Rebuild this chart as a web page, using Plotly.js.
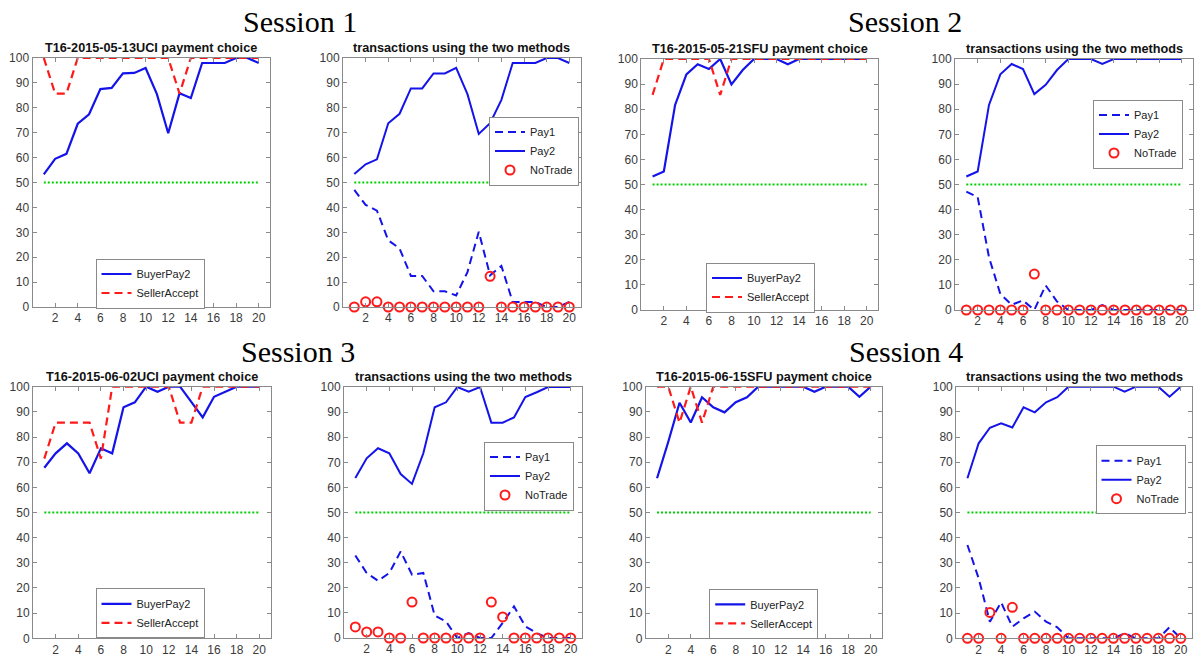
<!DOCTYPE html>
<html>
<head>
<meta charset="utf-8">
<script src="https://cdn.plot.ly/plotly-3.0.1.min.js"></script>
<style>html,body{margin:0;padding:0;background:#fff;}#chart{width:1197px;height:663px;}</style>
</head>
<body>
<div id="chart"></div>
<script>
// ---------- DATA ----------
const rounds = [1,2,3,4,5,6,7,8,9,10,11,12,13,14,15,16,17,18,19,20];
const xTickVals = [2,4,6,8,10,12,14,16,18,20];
const yTickVals = [0,10,20,30,40,50,60,70,80,90,100];
const refLevel = 50;
const refRounds = [1,20];

const sessionTitles = ["Session 1","Session 2","Session 3","Session 4"];
const choiceTitles = ["T16-2015-05-13UCI payment choice","T16-2015-05-21SFU payment choice",
                      "T16-2015-06-02UCI payment choice","T16-2015-06-15SFU payment choice"];
const transTitle = "transactions using the two methods";

// Session 1
const s1_buyerPay2   = [53.3,59.5,61.5,73.6,77.4,87.5,88,93.8,94,96,85.5,69.8,85.8,83.9,98,98,98,100,100,98];
const s1_sellerAccept= [100,85.7,85.7,100,100,100,100,100,100,100,100,100,85.7,100,100,100,100,100,100,100];
const s1_pay1        = [47,41,38.7,26.8,23.5,12.5,12.5,6.3,6.3,4.6,14,30.2,12.7,16.5,2,2,2,0,0,2];
const s1_pay2        = [53.4,57.3,59.3,73.8,77.6,87.8,87.8,93.8,93.8,96,85.5,69.5,73.8,83.2,98,98,98,100,100,98];
const s1_noTrade     = [0,2.1,2.1,0,0,0,0,0,0,0,0,0,12.3,0,0,0,0,0,0,0];
// Session 2
const s2_buyerPay2   = [53.2,55.2,81.7,93.9,97.9,96,100,89.9,95.6,100,100,100,97.9,100,100,100,100,100,100,100];
const s2_sellerAccept= [85.7,100,100,100,100,100,85.7,100,100,100,100,100,100,100,100,100,100,100,100,100];
const s2_pay1        = [47.2,45,21,6.4,2.1,3.8,0,9.8,3.4,0,0,0,2,0,0,0,0,0,0,0];
const s2_pay2        = [53.2,55.2,81.7,93.9,98,96,86,89.7,95.6,100,100,100,98,100,100,100,100,100,100,100];
const s2_noTrade     = [0,0,0,0,0,0,14.3,0,0,0,0,0,0,0,0,0,0,0,0,0];
// Session 3
const s3_buyerPay2   = [67.8,73.5,77.5,73.5,65.6,75.5,73.5,91.8,93.8,100,98,100,100,94,87.8,96,98,100,100,100];
const s3_sellerAccept= [71.4,85.7,85.7,85.7,85.7,71.4,100,100,100,100,100,100,85.7,85.7,100,100,100,100,100,100];
const s3_pay1        = [32.9,25.9,22.8,25.9,34.5,25.2,25.9,9,6.6,0,2,0,0,6,12.6,4.6,2,0,0,0];
const s3_pay2        = [63.7,71.6,75.6,73.6,65.3,61.4,73.6,91.9,93.9,100,98.1,100,85.8,85.8,87.9,96,97.9,100,100,100];
const s3_noTrade     = [4.4,2.4,2.4,0,0,14.3,0,0,0,0,0,0,14.3,8.4,0,0,0,0,0,0];
// Session 4
const s4_buyerPay2   = [63.6,78.1,93.6,85.8,95.8,91.8,89.8,93.8,95.8,100,100,100,100,100,98,100,100,100,96,100];
const s4_sellerAccept= [100,100,85.7,100,85.7,100,100,100,100,100,100,100,100,100,100,100,100,100,100,100];
const s4_pay1        = [37.1,23.8,6.6,14.3,4.6,7.9,10.6,6.6,4.4,0,0,0,0,0,2,0,0,0,4.4,0];
const s4_pay2        = [63.6,77.5,83.7,85.4,83.8,91.8,89.8,93.8,95.8,100,100,100,100,100,98,100,100,100,96,100];
const s4_noTrade     = [0,0,10.3,0,12.3,0,0,0,0,0,0,0,0,0,0,0,0,0,0,0];

const sessions = [
  {buyer:s1_buyerPay2, seller:s1_sellerAccept, pay1:s1_pay1, pay2:s1_pay2, noTrade:s1_noTrade},
  {buyer:s2_buyerPay2, seller:s2_sellerAccept, pay1:s2_pay1, pay2:s2_pay2, noTrade:s2_noTrade},
  {buyer:s3_buyerPay2, seller:s3_sellerAccept, pay1:s3_pay1, pay2:s3_pay2, noTrade:s3_noTrade},
  {buyer:s4_buyerPay2, seller:s4_sellerAccept, pay1:s4_pay1, pay2:s4_pay2, noTrade:s4_noTrade}
];

// ---------- LAYOUT (pixel boxes) ----------
const W = 1197, H = 663;
const boxes = [
  [32.5,270,58,307],[343,580.6,58,307],[641.3,878,59,310],[955,1193,59,310],
  [33,270.6,386.7,638.3],[344,582,387,638],[645.8,881.9,386.7,638.3],[956.2,1192,386.7,638.3]
];
const legendPos = [
  [150,283.5],[534,151],[760.5,287.5],[1138,134],
  [150,613.3],[529,476],[763.7,613.8],[1140.5,479.7]
];
const sessionTitlePos = [[300,22],[905,22],[298,351],[906,351]];

const BLUE = '#1414ea', RED = '#ff1a1a', GREEN = '#00d000';
const FONT = 'Liberation Sans, Arial, sans-serif';
const DASH = '8px,5px', DOT = '2px,2px';

const traces = [];
const layout = {
  width: W, height: H,
  margin: {l:0,r:0,t:0,b:0},
  paper_bgcolor: '#fff', plot_bgcolor: '#fff',
  showlegend: true,
  annotations: [],
  font: {family: FONT}
};

function fx(px){ return px / W; }
function fy(py){ return 1 - py / H; }

for (let p = 0; p < 8; p++) {
  const sessIdx = (p < 4) ? Math.floor(p/2) : 2 + Math.floor((p-4)/2);
  const isChoice = (p % 2 === 0);
  const data = sessions[sessIdx];
  const n = p + 1;
  const xa = n === 1 ? 'x' : 'x' + n;
  const ya = n === 1 ? 'y' : 'y' + n;
  const lg = n === 1 ? 'legend' : 'legend' + n;
  const b = boxes[p];

  const axCommon = {
    showgrid:false, zeroline:false, showline:true, mirror:'ticks',
    linecolor:'#8a8a8a', linewidth:1, ticks:'inside', ticklen:4, tickcolor:'#8a8a8a',
    tickfont:{family:FONT, size:12, color:'#3a3a3a'}, fixedrange:true
  };
  layout['xaxis' + (n===1?'':n)] = Object.assign({}, axCommon, {
    domain:[fx(b[0]), fx(b[1])], anchor: ya, range:[0,21],
    tickmode:'array', tickvals:xTickVals
  });
  layout['yaxis' + (n===1?'':n)] = Object.assign({}, axCommon, {
    domain:[fy(b[3]), fy(b[2])], anchor: xa, range:[0,100],
    tickmode:'array', tickvals:yTickVals
  });

  if (isChoice) {
    traces.push({x:rounds, y:data.buyer, xaxis:xa, yaxis:ya, legend:lg, name:'BuyerPay2',
      mode:'lines', line:{color:BLUE, width:2.2}, cliponaxis:false});
    traces.push({x:rounds, y:data.seller, xaxis:xa, yaxis:ya, legend:lg, name:'SellerAccept',
      mode:'lines', line:{color:RED, width:2.2, dash:DASH}, cliponaxis:false});
    traces.push({x:refRounds, y:[refLevel, refLevel], xaxis:xa, yaxis:ya, showlegend:false,
      mode:'lines', line:{color:GREEN, width:2, dash:DOT}, hoverinfo:'skip'});
  } else {
    traces.push({x:rounds, y:data.pay1, xaxis:xa, yaxis:ya, legend:lg, name:'Pay1',
      mode:'lines', line:{color:BLUE, width:2, dash:DASH}, cliponaxis:false});
    traces.push({x:rounds, y:data.pay2, xaxis:xa, yaxis:ya, legend:lg, name:'Pay2',
      mode:'lines', line:{color:BLUE, width:2}, cliponaxis:false});
    traces.push({x:rounds, y:data.noTrade, xaxis:xa, yaxis:ya, legend:lg, name:'NoTrade',
      mode:'markers', marker:{symbol:'circle-open', size:9, color:RED, line:{width:2, color:RED}},
      cliponaxis:false});
    traces.push({x:refRounds, y:[refLevel, refLevel], xaxis:xa, yaxis:ya, showlegend:false,
      mode:'lines', line:{color:GREEN, width:2, dash:DOT}, hoverinfo:'skip'});
  }

  layout[lg] = {
    x: fx(legendPos[p][0]), y: fy(legendPos[p][1]), xanchor:'center', yanchor:'middle',
    xref:'paper', yref:'paper',
    bgcolor:'#fff', bordercolor:'#8a8a8a', borderwidth:1,
    font:{family:FONT, size:11, color:'#222'}, tracegroupgap:0, itemwidth:30
  };

  layout.annotations.push({
    xref:'paper', yref:'paper', x: fx((b[0]+b[1])/2), y: fy(b[2]-10),
    xanchor:'center', yanchor:'middle', showarrow:false,
    text: '<b>' + (isChoice ? choiceTitles[sessIdx] : transTitle) + '</b>',
    font:{family:FONT, size:12.7, color:'#111'}
  });
}

for (let i = 0; i < 4; i++) {
  layout.annotations.push({
    xref:'paper', yref:'paper', x: fx(sessionTitlePos[i][0]), y: fy(sessionTitlePos[i][1]),
    xanchor:'center', yanchor:'middle', showarrow:false, text: sessionTitles[i],
    font:{family:'Liberation Serif, Times New Roman, serif', size:30, color:'#000'}
  });
}

Plotly.newPlot('chart', traces, layout, {displayModeBar:false, staticPlot:true});
</script>
</body>
</html>
